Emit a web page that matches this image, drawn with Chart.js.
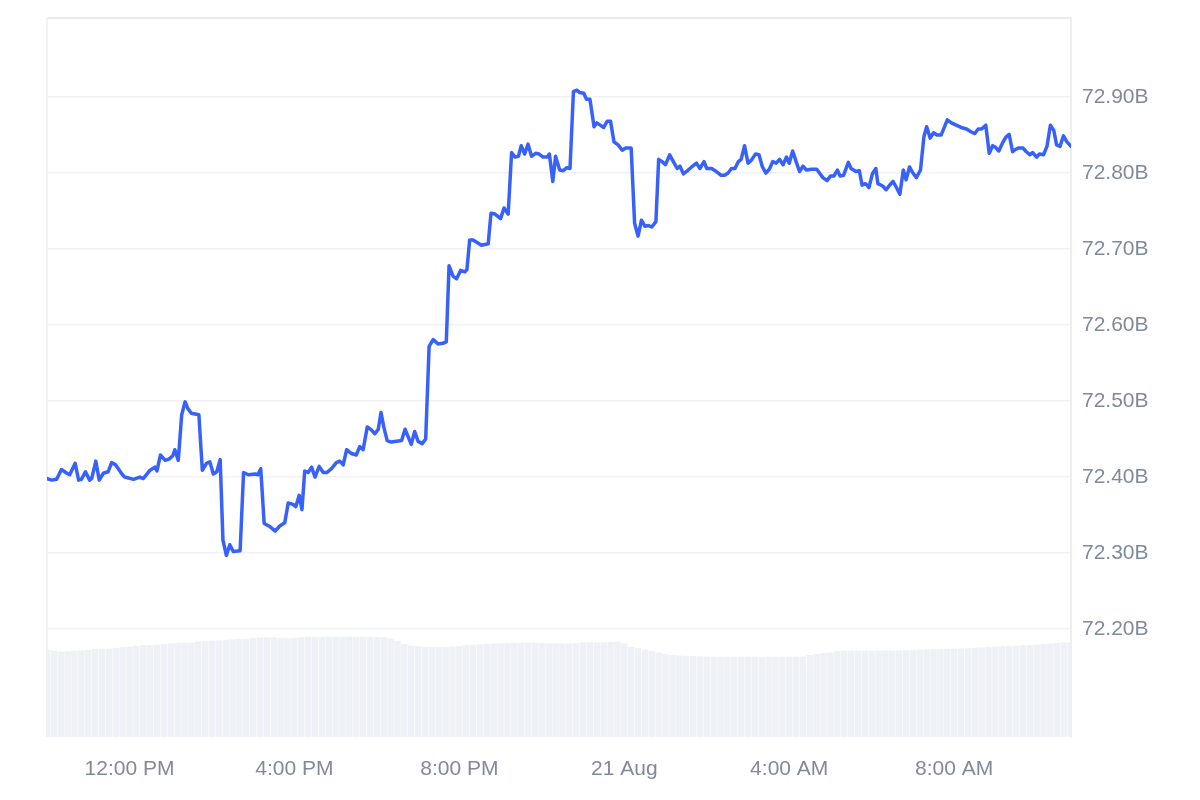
<!DOCTYPE html>
<html>
<head>
<meta charset="utf-8">
<script src="https://cdn.jsdelivr.net/npm/chart.js@4.4.1/dist/chart.umd.min.js"></script>
<style>
  html, body { margin: 0; background: #fff; }
  #chart { display: block; }
</style>
</head>
<body>
<canvas id="chart" width="1200" height="800"></canvas>
<script>
// minutes after 10:00 AM (20 Aug) and market cap in billions
const capTimes = [
  0, 7, 14, 21, 29, 33, 41, 46, 50, 56, 62, 65, 71, 76, 82, 89, 94, 100, 109, 113,
  126, 135, 140, 150, 157, 160, 165, 172, 178, 183, 186, 191, 196, 201, 205, 210, 221, 226, 232, 237,
  242, 247, 252, 256, 261, 266, 271, 281, 286, 293, 303, 307, 311, 316, 324, 332, 339, 346, 351, 358,
  362, 367, 371, 375, 380, 385, 390, 396, 402, 407, 414, 421, 426, 431, 436, 443, 450, 455, 460, 466,
  472, 477, 482, 486, 490, 495, 501, 516, 521, 526, 530, 535, 540, 546, 551, 556, 562, 569, 576, 581,
  585, 591, 596, 602, 608, 611, 615, 620, 627, 632, 642, 646, 652, 660, 665, 671, 676, 681, 686, 690,
  695, 700, 705, 711, 716, 722, 728, 731, 736, 740, 746, 751, 756, 761, 766, 771, 775, 781, 785, 790,
  796, 800, 805, 810, 815, 820, 825, 831, 837, 842, 850, 855, 860, 865, 870, 875, 880, 886, 890, 895,
  900, 906, 912, 917, 921, 926, 933, 938, 945, 950, 956, 960, 967, 974, 981, 986, 991, 996, 1001, 1006,
  1010, 1015, 1020, 1025, 1031, 1036, 1041, 1046, 1051, 1056, 1061, 1066, 1071, 1076, 1080, 1085, 1090, 1095, 1100, 1105,
  1112, 1120, 1124, 1129, 1135, 1140, 1145, 1150, 1154, 1159, 1166, 1170, 1177, 1182, 1186, 1191, 1196, 1201, 1206, 1209,
  1216, 1221, 1226, 1231, 1236, 1241, 1246, 1250, 1255, 1260, 1265, 1271, 1276, 1280, 1285, 1290, 1295, 1301, 1310, 1316,
  1323, 1330, 1338, 1345, 1350, 1355, 1360, 1366, 1371, 1376, 1380, 1385, 1390, 1395, 1400, 1405, 1409, 1414, 1420, 1425,
  1430, 1434, 1440, 1444, 1450, 1455, 1460, 1465, 1469, 1474, 1479, 1484, 1490
];
const capValues = [
  72.398, 72.396, 72.397, 72.410, 72.405, 72.403, 72.418, 72.396, 72.397, 72.407, 72.396, 72.398, 72.421, 72.396, 72.405, 72.407, 72.419, 72.416, 72.404, 72.400,
  72.397, 72.400, 72.398, 72.409, 72.413, 72.408, 72.429, 72.422, 72.424, 72.428, 72.436, 72.422, 72.482, 72.499, 72.490, 72.484, 72.482, 72.409, 72.418, 72.420,
  72.404, 72.407, 72.423, 72.317, 72.297, 72.311, 72.302, 72.303, 72.406, 72.403, 72.404, 72.403, 72.411, 72.339, 72.335, 72.329, 72.336, 72.340, 72.366, 72.364,
  72.361, 72.376, 72.357, 72.408, 72.406, 72.413, 72.400, 72.414, 72.406, 72.406, 72.411, 72.419, 72.421, 72.416, 72.436, 72.431, 72.429, 72.440, 72.436, 72.466,
  72.462, 72.457, 72.463, 72.485, 72.466, 72.448, 72.446, 72.448, 72.463, 72.452, 72.443, 72.460, 72.447, 72.444, 72.450, 72.572, 72.581, 72.575, 72.576, 72.578,
  72.678, 72.664, 72.661, 72.672, 72.670, 72.673, 72.712, 72.712, 72.708, 72.705, 72.707, 72.747, 72.746, 72.740, 72.754, 72.746, 72.827, 72.821, 72.822, 72.836,
  72.825, 72.838, 72.822, 72.826, 72.825, 72.821, 72.821, 72.825, 72.789, 72.822, 72.804, 72.803, 72.807, 72.806, 72.907, 72.909, 72.906, 72.905, 72.897, 72.897,
  72.861, 72.866, 72.863, 72.860, 72.868, 72.868, 72.841, 72.837, 72.830, 72.833, 72.833, 72.734, 72.717, 72.738, 72.730, 72.731, 72.729, 72.736, 72.818, 72.815,
  72.811, 72.824, 72.814, 72.806, 72.809, 72.799, 72.804, 72.808, 72.813, 72.806, 72.815, 72.806, 72.806, 72.802, 72.797, 72.797, 72.800, 72.806, 72.806, 72.815,
  72.818, 72.836, 72.813, 72.817, 72.825, 72.824, 72.808, 72.800, 72.805, 72.815, 72.813, 72.818, 72.811, 72.821, 72.813, 72.829, 72.815, 72.802, 72.809, 72.804,
  72.805, 72.805, 72.800, 72.794, 72.790, 72.796, 72.796, 72.804, 72.796, 72.797, 72.814, 72.806, 72.802, 72.803, 72.784, 72.786, 72.781, 72.799, 72.806, 72.786,
  72.783, 72.778, 72.784, 72.789, 72.781, 72.772, 72.804, 72.791, 72.808, 72.800, 72.794, 72.804, 72.848, 72.861, 72.846, 72.853, 72.850, 72.850, 72.870, 72.866,
  72.863, 72.860, 72.858, 72.854, 72.852, 72.858, 72.858, 72.863, 72.826, 72.836, 72.834, 72.829, 72.839, 72.847, 72.851, 72.828, 72.831, 72.833, 72.833, 72.828,
  72.824, 72.827, 72.821, 72.825, 72.824, 72.835, 72.863, 72.856, 72.837, 72.835, 72.849, 72.841, 72.835
];

// volume, one bar every 10 minutes from 10:00 AM
const volStep = 10;
const volValues = [
  48.4, 48.0, 47.5, 47.6, 48.0, 48.2, 48.5, 49.0, 49.0, 49.2,
  49.6, 50.1, 50.3, 50.8, 51.2, 51.2, 51.5, 51.8, 52.1, 52.4,
  52.5, 52.6, 53.0, 53.4, 53.6, 53.8, 54.1, 54.3, 54.5, 54.7,
  55.0, 55.3, 55.5, 55.3, 55.0, 54.9, 55.2, 55.5, 55.8, 55.8,
  55.7, 55.8, 55.8, 55.8, 55.9, 55.8, 55.8, 55.8, 55.7, 55.5,
  54.9, 53.6, 51.8, 50.8, 50.5, 50.3, 50.2, 50.2, 50.2, 50.3,
  50.6, 51.2, 51.4, 51.6, 51.8, 52.0, 52.1, 52.3, 52.4, 52.4,
  52.5, 52.4, 52.3, 52.2, 52.1, 52.1, 52.1, 52.3, 52.7, 52.7,
  52.6, 52.7, 52.9, 53.0, 52.0, 50.2, 49.4, 48.6, 47.8, 47.0,
  46.2, 45.7, 45.3, 45.1, 45.0, 44.9, 44.8, 44.8, 44.7, 44.7,
  44.8, 44.7, 44.7, 44.7, 44.6, 44.7, 44.7, 44.7, 44.7, 44.7,
  44.8, 45.6, 46.2, 46.8, 47.1, 47.6, 48.0, 48.0, 48.1, 48.0,
  48.0, 48.1, 48.2, 48.1, 48.2, 48.3, 48.5, 48.6, 48.7, 48.8,
  49.0, 49.1, 49.2, 49.3, 49.4, 49.6, 49.8, 50.1, 50.3, 50.5,
  50.6, 50.8, 51.0, 51.2, 51.4, 51.7, 52.0, 52.3, 52.6, 52.7
];

const timeTicks = [120, 360, 600, 840, 1080, 1320];
const timeLabels = ["12:00 PM", "4:00 PM", "8:00 PM", "21 Aug", "4:00 AM", "8:00 AM"];
const capTicks = [72.2, 72.3, 72.4, 72.5, 72.6, 72.7, 72.8, 72.9];

const textColor = "#808a9d";
const fontFamily = "Arial, 'Liberation Sans', Helvetica, sans-serif";

const framePlugin = {
  id: "frame",
  beforeDatasetsDraw(chart) {
    const { ctx, chartArea: a } = chart;
    ctx.save();
    ctx.lineWidth = 2;
    ctx.strokeStyle = "#e8eaed";
    ctx.beginPath();
    ctx.moveTo(a.left, a.top);
    ctx.lineTo(a.right, a.top);
    ctx.stroke();
    ctx.strokeStyle = "#f1f2f4";
    ctx.beginPath();
    ctx.moveTo(a.left, a.top);
    ctx.lineTo(a.left, a.bottom);
    ctx.stroke();
    ctx.restore();
  }
};

new Chart(document.getElementById("chart"), {
  type: "line",
  data: {
    datasets: [
      {
        type: "line",
        data: capTimes.map((t, i) => ({ x: t, y: capValues[i] })),
        borderColor: "#3861fb",
        borderWidth: 3.5,
        pointRadius: 0,
        tension: 0,
        borderJoinStyle: "round",
        borderCapStyle: "round",
        yAxisID: "y",
        order: 0
      },
      {
        type: "bar",
        data: volValues.map((v, i) => ({ x: i * volStep, y: v })),
        backgroundColor: "#eef1f5",
        barPercentage: 0.94,
        categoryPercentage: 1,
        yAxisID: "vol",
        order: 1
      }
    ]
  },
  options: {
    responsive: false,
    animation: false,
    events: [],
    layout: { padding: { left: 47, top: 18, right: 0, bottom: 0 } },
    plugins: { legend: { display: false }, tooltip: { enabled: false } },
    scales: {
      x: {
        type: "linear",
        min: 0,
        max: 1490,
        offset: false,
        grid: { display: false },
        border: { display: false },
        afterBuildTicks: s => { s.ticks = timeTicks.map(v => ({ value: v })); },
        afterFit: s => { s.height = 63; },
        ticks: {
          color: textColor,
          font: { family: fontFamily, size: 21 },
          padding: 12,
          maxRotation: 0,
          autoSkip: false,
          callback: (v, i) => timeLabels[i]
        }
      },
      y: {
        position: "right",
        min: 72.058,
        max: 73.004,
        afterBuildTicks: s => { s.ticks = capTicks.map(v => ({ value: v })); },
        afterFit: s => { s.width = 129; s.paddingTop = 0; s.paddingBottom = 0; },
        grid: { color: "#eff1f4", lineWidth: 1.5, drawTicks: false },
        border: { display: true, color: "#eceef1", width: 2 },
        ticks: {
          color: textColor,
          font: { family: fontFamily, size: 21 },
          padding: 11,
          callback: v => v.toFixed(2) + "B"
        }
      },
      vol: {
        display: false,
        min: 0,
        max: 400
      }
    }
  },
  plugins: [framePlugin]
});
</script>
</body>
</html>
